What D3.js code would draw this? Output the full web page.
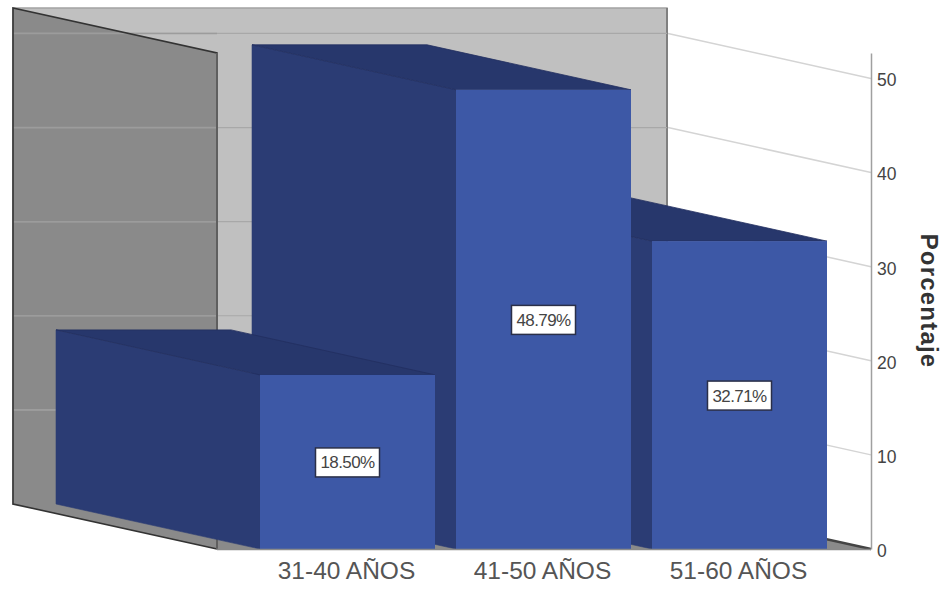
<!DOCTYPE html>
<html>
<head>
<meta charset="utf-8">
<script src="https://cdn.jsdelivr.net/npm/d3@7"></script>
<style>
  html, body { margin: 0; padding: 0; background: #fff; }
  svg { display: block; }
  text { font-family: "Liberation Sans", Arial, sans-serif; }
</style>
</head>
<body>
<svg id="chart" width="945" height="590"></svg>
<script>
const categories = ["31-40 AÑOS", "41-50 AÑOS", "51-60 AÑOS"];
const percentages = [18.50, 48.79, 32.71];
const yTicks = [0, 10, 20, 30, 40, 50];
const yMax = 52.7;
const axisTitle = "Porcentaje";

const svg = d3.select("#chart");

// Oblique projection: the back plane is shifted up and to the left of the front plane.
const depthX = -204, depthY = -45;
const floorY = 549, topY = 53, frontLeft = 217, frontRight = 871;

const y = d3.scaleLinear().domain([0, yMax]).range([floorY, topY]);
const x = d3.scaleBand().domain(categories).range([260, 828]).paddingInner(0.107).round(true);

const back = ([px, py]) => [px + depthX, py + depthY];
const poly = pts => pts.map(p => p.join(",")).join(" ");

// Back wall
svg.append("polygon")
  .attr("points", poly([back([frontLeft, topY]), back([frontRight, topY]), back([frontRight, floorY]), back([frontLeft, floorY])]))
  .attr("fill", "#c0c0c0").attr("stroke", "#a3a3a3").attr("stroke-width", 1.5);

// Floor, with its darker far edge running out to the axis
svg.append("polygon")
  .attr("points", poly([back([frontLeft, floorY]), back([frontRight, floorY]), [frontRight, floorY], [frontLeft, floorY]]))
  .attr("fill", "#8a8a8a");
svg.append("line")
  .attr("x1", frontRight + depthX).attr("y1", floorY + depthY)
  .attr("x2", frontRight).attr("y2", floorY)
  .attr("stroke", "#444").attr("stroke-width", 2.5);

// Left wall
svg.append("polygon")
  .attr("points", poly([back([frontLeft, topY]), [frontLeft, topY], [frontLeft, floorY], back([frontLeft, floorY])]))
  .attr("fill", "#8a8a8a");

// Right edge of the back wall
svg.append("line")
  .attr("x1", frontRight + depthX).attr("x2", frontRight + depthX)
  .attr("y1", topY + depthY).attr("y2", floorY + depthY)
  .attr("stroke", "#808080").attr("stroke-width", 2);

// Gridlines: across both walls, then slanting out to the axis
const gridTicks = yTicks.filter(t => t > 0);
svg.append("g").selectAll("line").data(gridTicks).join("line")
  .attr("x1", back([frontLeft, 0])[0]).attr("x2", frontRight + depthX)
  .attr("y1", d => y(d) + depthY).attr("y2", d => y(d) + depthY)
  .attr("stroke", "#a8a8a8").attr("stroke-width", 1.2);
svg.append("g").selectAll("line").data(gridTicks).join("line")
  .attr("x1", back([frontLeft, 0])[0]).attr("x2", frontLeft)
  .attr("y1", d => y(d) + depthY).attr("y2", d => y(d) + depthY)
  .attr("stroke", "#9c9c9c").attr("stroke-width", 1.5);
svg.append("g").selectAll("line").data(gridTicks).join("line")
  .attr("x1", frontRight + depthX + 1).attr("x2", frontRight)
  .attr("y1", d => y(d) + depthY).attr("y2", d => y(d))
  .attr("stroke", "#d4d4d4").attr("stroke-width", 1.5);

// Dark outline of the left wall
svg.append("polyline")
  .attr("points", poly([[frontLeft, floorY], [frontLeft, topY], back([frontLeft, topY]), back([frontLeft, floorY]), [frontLeft, floorY]]))
  .attr("fill", "none").attr("stroke", "#333").attr("stroke-width", 1.6);
svg.append("line")
  .attr("x1", frontLeft).attr("x2", frontLeft).attr("y1", topY).attr("y2", floorY)
  .attr("stroke", "#5f5f5f").attr("stroke-width", 2);

// Bars are painted right to left so nearer ones overlap correctly
const order = d3.range(categories.length).reverse();
const bars = svg.append("g").selectAll("g").data(order).join("g");

bars.append("polygon")        // left side
  .attr("points", i => {
    const l = x(categories[i]), t = y(percentages[i]);
    return poly([back([l, t]), [l, t], [l, floorY], back([l, floorY])]);
  })
  .attr("fill", "#2b3c74").attr("stroke", "#2b3c74").attr("stroke-width", 0.6);
bars.append("polygon")        // top
  .attr("points", i => {
    const l = x(categories[i]), r = l + x.bandwidth(), t = y(percentages[i]);
    return poly([back([l, t]), back([r, t]), [r, t], [l, t]]);
  })
  .attr("fill", "#27376c").attr("stroke", "#222f60").attr("stroke-width", 0.8);
bars.append("rect")           // front
  .attr("x", i => x(categories[i]))
  .attr("y", i => y(percentages[i]))
  .attr("width", x.bandwidth())
  .attr("height", i => floorY - y(percentages[i]))
  .attr("fill", "#3d58a6");

// Value labels
const labels = svg.append("g").selectAll("g").data(order).join("g")
  .attr("transform", i => `translate(${x(categories[i]) + x.bandwidth() / 2},${(y(percentages[i]) + floorY) / 2})`);
labels.append("rect")
  .attr("x", -32).attr("y", -14).attr("width", 64).attr("height", 29)
  .attr("fill", "#fff").attr("stroke", "#2a2f48").attr("stroke-width", 1.5);
labels.append("text")
  .attr("text-anchor", "middle").attr("dy", 6.5)
  .attr("font-size", 17).attr("fill", "#444").attr("letter-spacing", -0.6)
  .text(i => percentages[i].toFixed(2) + "%");

// Baseline and value axis
svg.append("line")
  .attr("x1", frontLeft).attr("x2", frontRight).attr("y1", floorY + 0.5).attr("y2", floorY + 0.5)
  .attr("stroke", "#8a8a8a").attr("stroke-width", 1.5);

const yAxis = svg.append("g")
  .attr("transform", `translate(${frontRight},0)`)
  .call(d3.axisRight(y).tickValues(yTicks).tickSize(0).tickPadding(6));
yAxis.select(".domain").attr("stroke", "#a0a0a0").attr("stroke-width", 1.5);
yAxis.selectAll("text")
  .attr("font-family", '"Liberation Sans", Arial, sans-serif')
  .attr("font-size", 17.5).attr("fill", "#444").attr("dy", "0.42em");

// Category axis
const xAxis = svg.append("g")
  .attr("transform", `translate(-1,${floorY})`)
  .call(d3.axisBottom(x).tickSize(0).tickPadding(13));
xAxis.select(".domain").remove();
xAxis.selectAll("text")
  .attr("font-family", '"Liberation Sans", Arial, sans-serif')
  .attr("font-size", 24.5).attr("fill", "#555");

// Axis title
svg.append("text")
  .attr("transform", "translate(921,301) rotate(90)")
  .attr("text-anchor", "middle")
  .attr("font-size", 24).attr("font-weight", "bold").attr("fill", "#333")
  .attr("letter-spacing", 1.2)
  .text(axisTitle);
</script>
</body>
</html>
